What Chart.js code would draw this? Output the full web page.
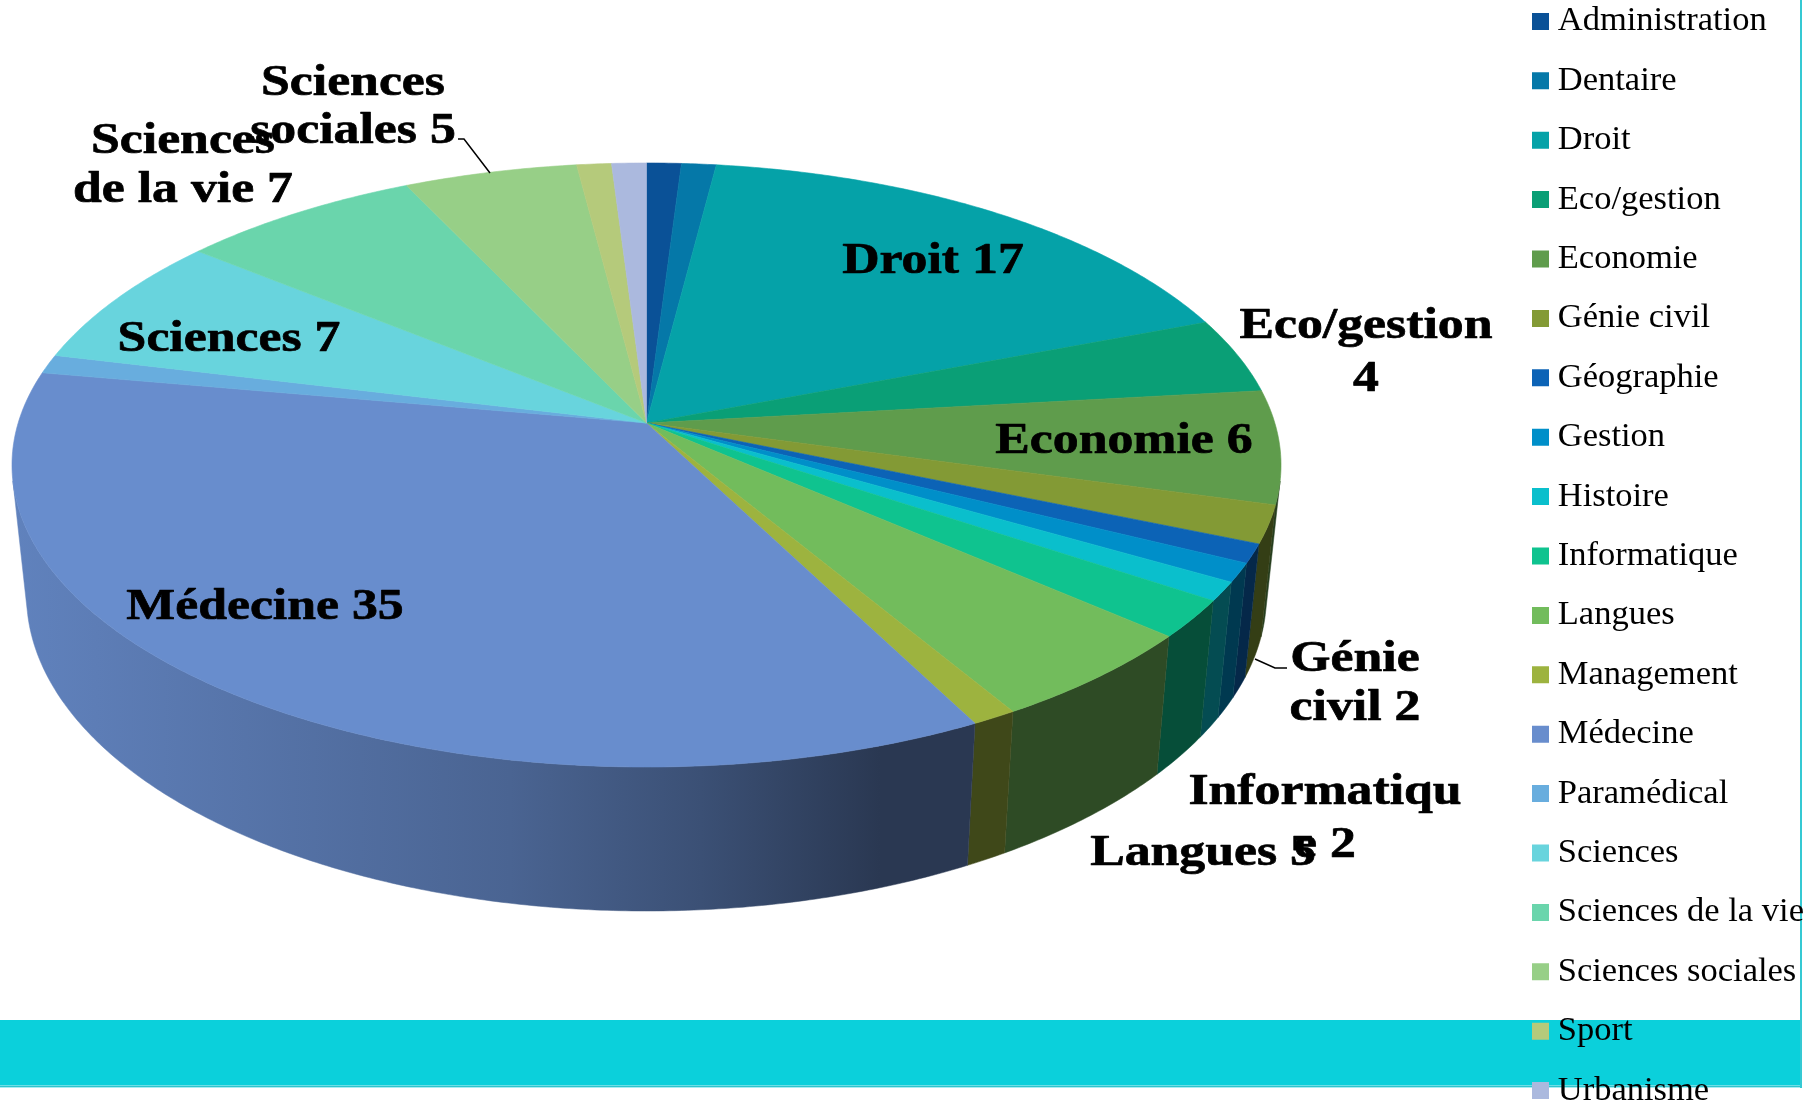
<!DOCTYPE html>
<html><head><meta charset="utf-8">
<style>
html,body{margin:0;padding:0;background:#fff;overflow:hidden;width:1808px;height:1101px}
#band{position:absolute;left:0;top:1020px;width:1800px;height:65px;background:#0bd0db}
#bandLine1{position:absolute;left:0;top:1085px;width:1800px;height:1px;background:#6fdfe6}
#bandLine2{position:absolute;left:0;top:1086px;width:1800px;height:1px;background:#2fc4cd}
#bandLine3{position:absolute;left:0;top:1087px;width:1800px;height:1px;background:#a8eef2}
#edge{position:absolute;left:1800px;top:0;width:2px;height:1088px;background:#35c9d3}
canvas{position:absolute;left:0;top:0}
</style>
<script src="https://cdn.jsdelivr.net/npm/chart.js@4"></script>
</head><body>
<div id="band"></div><div id="bandLine1"></div><div id="bandLine2"></div><div id="bandLine3"></div><div id="edge"></div>
<canvas id="c" width="1808" height="1250" style="width:1808px;height:1250px"></canvas>
<script>
const categories = ['Administration','Dentaire','Droit','Eco/gestion','Economie','Génie civil','Géographie','Gestion','Histoire','Informatique','Langues','Management','Médecine','Paramédical','Sciences','Sciences de la vie','Sciences sociales','Sport','Urbanisme'];
const values = [1,1,17,4,6,2,1,1,1,2,5,1,35,1,7,7,5,1,1];
const colors = ['#0a5197','#0578a8','#05a2a8','#0a9f76','#5f9c4c','#839a35','#0c63b6','#008fc9','#0abfcc','#0fc38f','#72bc5c','#9db33f','#688dcd','#68adde','#68d4dd','#6ad5ac','#97cf87','#b5ca7b','#abb9de'];

// Which categories carry a data label, how the text wraps, and where it sits.
const labelPlacement = {
  'Droit':             {lines:['Droit 17'],                x:933,  y:[261]},
  'Eco/gestion':       {lines:['Eco/gestion','4'],         x:1366, y:[326,379]},
  'Economie':          {lines:['Economie 6'],              x:1124, y:[441]},
  'Génie civil':       {lines:['Génie','civil 2'],         x:1355, y:[659,708]},
  'Informatique':      {lines:['Informatiqu','e 2'],       x:1325, y:[792,845]},
  'Langues':           {lines:['Langues 5'],               x:1203, y:[853]},
  'Médecine':          {lines:['Médecine 35'],             x:265,  y:[607]},
  'Sciences':          {lines:['Sciences 7'],              x:229,  y:[339]},
  'Sciences de la vie':{lines:['Sciences','de la vie 7'],  x:183,  y:[141,190]},
  'Sciences sociales': {lines:['Sciences','sociales 5'],   x:353,  y:[83,131]}
};
const leaderLines = [
  [[1255,659],[1275,668],[1287,668]],
  [[458,139],[464,139],[490,173]]
];

// Perspective model of the cylinder: ellipses for the top and bottom rims and
// the off-centre apex produced by the viewing angle.
const topRim = {cx:646.5, cy:465, rx:634.5, ry:302};
const bottomRim = {cx:646.5, cy:595, rx:620, ry:316};
const apexShift = 0.139;
// Brightness of the side wall from left to right.
const wallShadeStops = [[12,0.92],[96,0.89],[510,0.71],[701,0.57],[880,0.40],[1300,0.40]];

function project(rim, r, angle){
  const x = r*Math.cos(angle), y = r*Math.sin(angle);
  const k = 1 - apexShift*y;
  const u = x*Math.sqrt(1-apexShift*apexShift)/k;
  const v = (y-apexShift)/k;
  return [rim.cx + rim.rx*u, rim.cy + rim.ry*v];
}
function shade(hex, f){
  const n = parseInt(hex.slice(1),16);
  const c = [(n>>16)&255,(n>>8)&255,n&255].map(v=>Math.round(v*f));
  return `rgb(${c[0]},${c[1]},${c[2]})`;
}
function wallGradient(ctx, hex){
  const x0 = wallShadeStops[0][0], x1 = wallShadeStops[wallShadeStops.length-1][0];
  const g = ctx.createLinearGradient(x0,0,x1,0);
  wallShadeStops.forEach(([x,f])=>g.addColorStop((x-x0)/(x1-x0),shade(hex,f)));
  return g;
}
function quadArea(p){
  let s=0;
  for(let i=0;i<4;i++){const a=p[i],b=p[(i+1)%4];s+=a[0]*b[1]-b[0]*a[1];}
  return s;
}

const perspectivePie = {
  id:'perspectivePie',
  afterLayout(chart){
    chart.legend.left = 1515.6;
    chart.legend.top = -20.75;
  },
  beforeDatasetDraw(chart, args){
    const ctx = chart.ctx;
    const arcs = args.meta.data;
    const step = Math.PI/360;
    // side walls: only the front-facing run of each slice, as one polygon
    arcs.forEach((arc,i)=>{
      const {startAngle:a0,endAngle:a1} = arc.getProps(['startAngle','endAngle'],true);
      const n = Math.max(2,Math.ceil((a1-a0)/step));
      let run=[];
      const flush=()=>{
        if(!run.length) return;
        const tops=run.map(a=>project(topRim,1,a));
        const bots=run.map(a=>project(bottomRim,1,a)).reverse();
        ctx.beginPath();
        tops.concat(bots).forEach((pt,j)=> j?ctx.lineTo(pt[0],pt[1]):ctx.moveTo(pt[0],pt[1]));
        ctx.closePath();
        const g=wallGradient(ctx,colors[i]);
        ctx.fillStyle=g; ctx.strokeStyle=g; ctx.lineWidth=0.5;
        ctx.fill(); ctx.stroke();
        run=[];
      };
      for(let k=0;k<n;k++){
        const s=a0+(a1-a0)*k/n, e=a0+(a1-a0)*(k+1)/n;
        const q=[project(topRim,1,s),project(topRim,1,e),project(bottomRim,1,e),project(bottomRim,1,s)];
        if(quadArea(q)<0){
          if(!run.length) run.push(s);
          run.push(e);
        } else flush();
      }
      flush();
    });
    // top faces
    arcs.forEach((arc,i)=>{
      const {startAngle:a0,endAngle:a1} = arc.getProps(['startAngle','endAngle'],true);
      const n = Math.max(2,Math.ceil((a1-a0)/step));
      const apex = project(topRim,0,0);
      ctx.beginPath();
      ctx.moveTo(apex[0],apex[1]);
      for(let k=0;k<=n;k++){
        const pt=project(topRim,1,a0+(a1-a0)*k/n);
        ctx.lineTo(pt[0],pt[1]);
      }
      ctx.closePath();
      ctx.fillStyle=arc.options.backgroundColor;
      ctx.strokeStyle=arc.options.backgroundColor;
      ctx.lineWidth=0.6;
      ctx.fill(); ctx.stroke();
    });
    return false;
  },
  afterDatasetsDraw(chart){
    const ctx = chart.ctx;
    ctx.save();
    ctx.strokeStyle='#000'; ctx.lineWidth=1.5;
    leaderLines.forEach(l=>{
      ctx.beginPath();
      l.forEach((pt,j)=> j?ctx.lineTo(pt[0],pt[1]):ctx.moveTo(pt[0],pt[1]));
      ctx.stroke();
    });
    ctx.fillStyle='#000';
    ctx.strokeStyle='#000';
    ctx.lineWidth=0.7;
    ctx.lineJoin='round';
    ctx.font='bold 45px "Liberation Serif"';
    ctx.textAlign='center';
    ctx.textBaseline='middle';
    const stretch=1.15;
    categories.forEach(cat=>{
      const pl=labelPlacement[cat];
      if(!pl) return;
      pl.lines.forEach((t,j)=>{
        ctx.save();
        ctx.translate(pl.x,pl.y[j]);
        ctx.scale(stretch,1);
        ctx.fillText(t,0,0);
        ctx.strokeText(t,0,0);
        ctx.restore();
      });
    });
    ctx.restore();
  }
};

new Chart(document.getElementById('c'),{
  type:'pie',
  data:{labels:categories,datasets:[{data:values,backgroundColor:colors,borderWidth:0}]},
  options:{
    responsive:false,
    animation:false,
    plugins:{
      tooltip:{enabled:false},
      legend:{
        position:'right',
        align:'start',
        labels:{
          color:'#0a0a0a',
          font:{family:'"Liberation Serif"',size:34.5},
          boxWidth:0.01,
          boxHeight:0.01,
          padding:24.9,
          generateLabels(chart){
            return categories.map((text,index)=>({text,index,fillStyle:colors[index],strokeStyle:colors[index],lineWidth:17,hidden:false}));
          }
        }
      }
    }
  },
  plugins:[perspectivePie]
});
</script>
</body></html>
